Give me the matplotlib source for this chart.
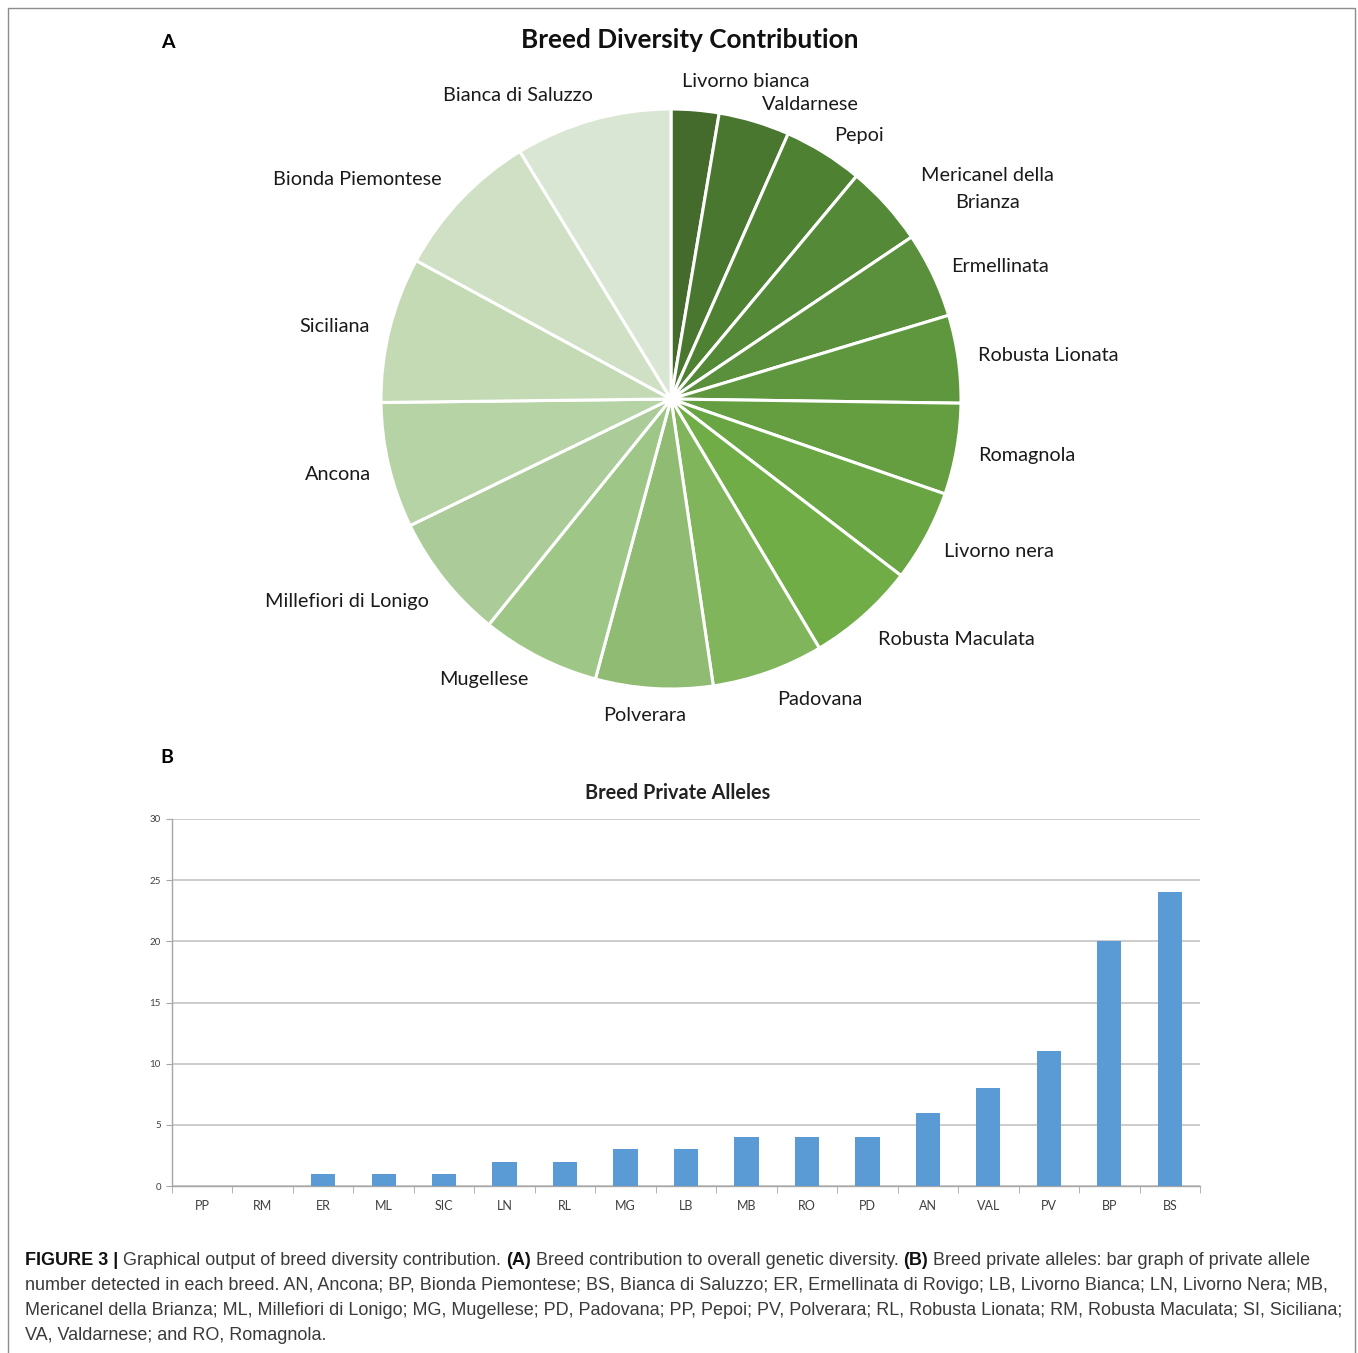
import matplotlib
matplotlib.use("Agg")
import numpy as np
import matplotlib.pyplot as plt
from matplotlib.patches import Rectangle

# Panel A: breed share of the overall diversity (%), clockwise from 12 o'clock
breeds = ["Livorno bianca", "Valdarnese", "Pepoi", "Mericanel della\nBrianza",
          "Ermellinata", "Robusta Lionata", "Romagnola", "Livorno nera",
          "Robusta Maculata", "Padovana", "Polverara", "Mugellese",
          "Millefiori di Lonigo", "Ancona", "Siciliana", "Bionda Piemontese",
          "Bianca di Saluzzo"]
contribution = [2.66, 3.96, 4.43, 4.52, 4.77, 4.89, 5.08, 5.11, 6.03,
                6.22, 6.53, 6.61, 7.00, 7.00, 8.11, 8.36, 8.72]

# Panel B: private alleles per breed
codes = ["PP", "RM", "ER", "ML", "SIC", "LN", "RL", "MG", "LB",
         "MB", "RO", "PD", "AN", "VAL", "PV", "BP", "BS"]
private_alleles = [0, 0, 1, 1, 1, 2, 2, 3, 3, 4, 4, 4, 6, 8, 11, 20, 24]

caption = [
    [("FIGURE 3 |", True), ("Graphical output of breed diversity contribution.", False),
     ("(A)", True), ("Breed contribution to overall genetic diversity.", False),
     ("(B)", True), ("Breed private alleles: bar graph of private allele", False)],
    [("number detected in each breed. AN, Ancona; BP, Bionda Piemontese; BS, Bianca di "
      "Saluzzo; ER, Ermellinata di Rovigo; LB, Livorno Bianca; LN, Livorno Nera; MB,", False)],
    [("Mericanel della Brianza; ML, Millefiori di Lonigo; MG, Mugellese; PD, Padovana; PP, "
      "Pepoi; PV, Polverara; RL, Robusta Lionata; RM, Robusta Maculata; SI, Siciliana;", False)],
    [("VA, Valdarnese; and RO, Romagnola.", False)],
]

pie_colors = ["#446b2b", "#4a772f", "#4f8133", "#548a37", "#5a903b", "#5e973d",
              "#649e40", "#69a543", "#70ad47", "#80b55c", "#8fbc72", "#9ec687",
              "#abcc98", "#b6d3a6", "#c3dab5", "#cfe0c5", "#d9e6d3"]

# small pixel nudges so the labels sit where Excel put them (dx right, dy down)
label_nudge_px = {
    "Livorno bianca": (-15, -8), "Valdarnese": (2, 3), "Mericanel della\nBrianza": (20, -2),
    "Romagnola": (2, 3), "Livorno nera": (0, 5), "Robusta Maculata": (1, 9),
    "Padovana": (2, 8), "Polverara": (-8, 7), "Mugellese": (-2, 4),
    "Millefiori di Lonigo": (1, 9), "Ancona": (2, 4), "Siciliana": (0, 2),
    "Bionda Piemontese": (-5, -6), "Bianca di Saluzzo": (6, -5),
}

plt.rcParams['font.family'] = ['Lato', 'DejaVu Sans']

W, H = 1358, 1353
fig = plt.figure(figsize=(W / 100, H / 100), dpi=100)


def fx(px):
    return px / W


def fy(py):
    return 1 - py / H


# ---- panel A: pie ----
R = 290
ax1 = fig.add_axes([fx(671 - 1.25 * R), fy(399 + 1.25 * R), 2.5 * R / W, 2.5 * R / H])
wedges, texts = ax1.pie(contribution, labels=breeds, colors=pie_colors,
                        startangle=90, counterclock=False, labeldistance=1.07,
                        wedgeprops=dict(edgecolor="white", linewidth=2.2),
                        textprops=dict(fontsize=14.3, color="#1a1a1a"))
ax1.set_xlim(-1.25, 1.25)
ax1.set_ylim(-1.25, 1.25)
k = 2.5 / (2.5 * R)  # data units per pixel
for t in texts:
    t.set_multialignment("center")
    t.set_linespacing(1.65)
    name = t.get_text()
    if name == "Polverara":
        t.set_ha("center")
    dx, dy = label_nudge_px.get(name, (0, 0))
    px, py = t.get_position()
    t.set_position((px + dx * k, py - dy * k))

fig.text(fx(690), fy(40), "Breed Diversity Contribution", ha="center", va="center",
         fontsize=18.8, fontweight="bold", color="#111111")
fig.text(fx(168), fy(43), "A", ha="center", va="center", fontsize=14, fontweight="bold")
fig.text(fx(167), fy(758), "B", ha="center", va="center", fontsize=14, fontweight="bold")

# ---- panel B: bars ----
ax2 = fig.add_axes([fx(172), fy(1186), (1200 - 172) / W, (1186 - 819) / H])
x = np.arange(len(codes))
ax2.bar(x, private_alleles, width=0.4, color="#5b9bd5", zorder=3)
ax2.set_xlim(-0.5, len(codes) - 0.5)
ax2.set_ylim(0, 30)
ax2.set_yticks(range(0, 31, 5))
ax2.set_xticks(x)
ax2.set_xticklabels(codes)
ax2.set_xticks(np.arange(-0.5, len(codes), 1), minor=True)
ax2.tick_params(axis="x", which="major", length=0, pad=10, labelsize=9, labelcolor="#404040")
ax2.tick_params(axis="x", which="minor", length=5, color="#a6a6a6")
ax2.tick_params(axis="y", length=4, color="#a6a6a6", labelsize=7, labelcolor="#404040", pad=4)
ax2.grid(axis="y", color="#bfbfbf", linewidth=1.1, zorder=0)
for s in ["top", "right"]:
    ax2.spines[s].set_visible(False)
for s in ["left", "bottom"]:
    ax2.spines[s].set_color("#a6a6a6")
    ax2.spines[s].set_linewidth(1.0)
fig.text(fx(678), fy(793), "Breed Private Alleles", ha="center", va="center",
         fontsize=14.3, fontweight="bold", color="#222222")

# ---- caption ----
cap = fig.add_axes([0, 0, 1, 1])
cap.axis("off")
cap.set_xlim(0, 1)
cap.set_ylim(0, 1)
cap_font = ["Liberation Sans Narrow", "Liberation Sans"]
for i, line in enumerate(caption):
    y = fy(1261 + 25 * i + 8)
    prev = None
    for s, bold in line:
        kw = dict(fontsize=13, family=cap_font, color="#111111" if bold else "#3a3a3a",
                  fontweight="bold" if bold else "normal", va="bottom", ha="left")
        if prev is None:
            prev = cap.text(fx(25), y, s, **kw)
        else:
            prev = cap.annotate(s, xy=(1, 0), xycoords=prev, xytext=(3.6, 0),
                                textcoords="offset points", **kw)

# outer frame
fig.add_artist(Rectangle((fx(8), fy(1360)), fx(1355) - fx(8), fy(8) - fy(1360),
                         transform=fig.transFigure, fill=False,
                         edgecolor="#8c8c8c", linewidth=1.0))

fig.savefig("out.png", dpi=100)
